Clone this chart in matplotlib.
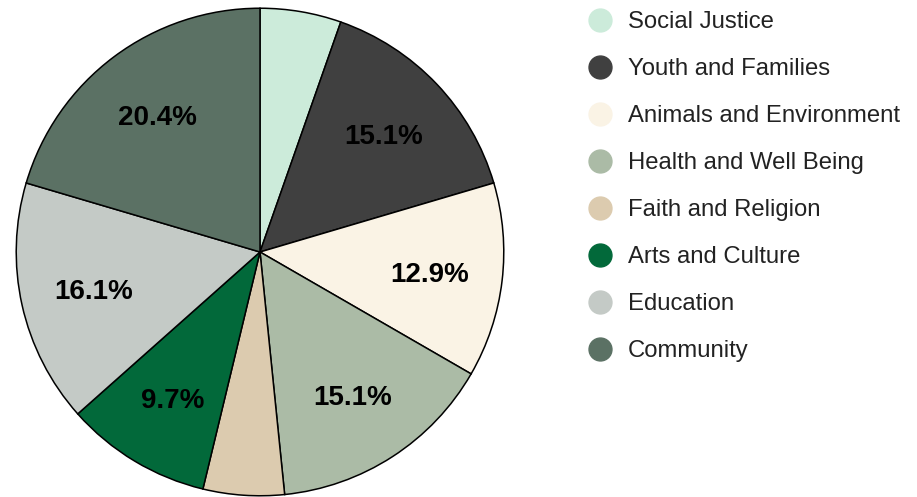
import matplotlib
matplotlib.use("Agg")
import matplotlib.pyplot as plt
from matplotlib.lines import Line2D

categories = ["Social Justice", "Youth and Families", "Animals and Environment",
              "Health and Well Being", "Faith and Religion", "Arts and Culture",
              "Education", "Community"]
counts = [5, 14, 12, 14, 5, 9, 15, 19]
colors = ["#CCEBDA", "#404040", "#FAF3E5", "#ABBBA6", "#DCCBAF", "#02693A",
          "#C4CAC6", "#5B7164"]

plt.rcParams['font.family'] = ['Liberation Sans', 'DejaVu Sans']

W, H = 917, 497
fig = plt.figure(figsize=(W / 100, H / 100), dpi=100)
cx, cy, r = 260, 252, 245
ax = fig.add_axes([(cx - r) / W, (H - cy - r) / H, 2 * r / W, 2 * r / H])


def fmt(p):
    return f"{p:.1f}%" if p >= 6 else ""


wedges, texts, autotexts = ax.pie(
    counts, colors=colors, startangle=90, counterclock=False, radius=0.995,
    autopct=fmt, pctdistance=0.7,
    wedgeprops=dict(edgecolor='black', linewidth=1.1),
    textprops=dict(fontsize=20, fontweight='bold', color='black'))
for t in autotexts:
    t.set_verticalalignment('center_baseline')
ax.set_xlim(-1, 1)
ax.set_ylim(-1, 1)
ax.set_aspect('equal')
ax.axis('off')

handles = [Line2D([0], [0], marker='o', linestyle='none', markersize=16.5,
                  markerfacecolor=c, markeredgecolor=c) for c in colors]
leg = fig.legend(handles, categories, loc='upper left',
                 bbox_to_anchor=(588 / W, 1 - 11 / H), frameon=False,
                 fontsize=17.2, labelspacing=1.048, handlelength=1.0,
                 handletextpad=0.66, borderaxespad=0, borderpad=0)
for t in leg.get_texts():
    t.set_color('#222222')

fig.savefig("out.png", dpi=100)
